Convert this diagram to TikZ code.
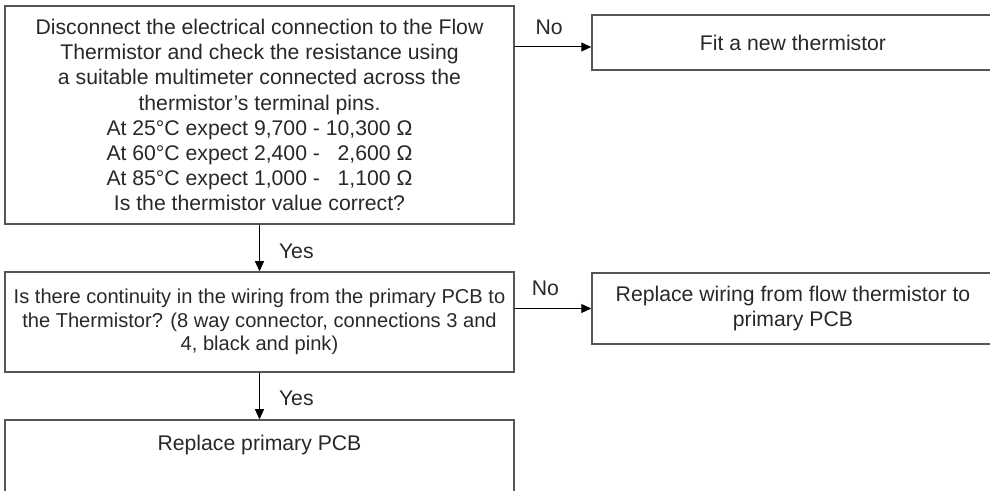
\documentclass[tikz,border=0pt]{standalone}
\usepackage{fontspec}
\setmainfont{Liberation Sans}
\usepackage{tikz}
\usetikzlibrary{arrows.meta, positioning}
\usepackage{xcolor}
\definecolor{boxline}{RGB}{85,85,85}
\definecolor{inktext}{RGB}{40,40,40}

\tikzset{
  stepbox/.style={draw=boxline, line width=0.75pt, align=center, inner sep=0pt,
    minimum width=254.5pt, text=inktext, font={\fontsize{10.6pt}{12.55pt}\selectfont}},
  sidebox/.style={stepbox, minimum width=201pt},
  arr/.style={-{Triangle[length=5pt, width=4.5pt]}, line width=0.5pt, black},
  lbl/.style={inner sep=0pt, text=inktext, font={\fontsize{10.6pt}{12.55pt}\selectfont}}
}

\begin{document}
\begin{tikzpicture}[x=0.5pt, y=-0.5pt]
  \useasboundingbox (0,0) rectangle (990,491);
  \clip (0,0) rectangle (990,491);
  % thermistor check
  \node[stepbox, minimum height=109pt] (test) at (259.5,115)
    {Disconnect the electrical connection to the Flow\\
     Thermistor and check the resistance using\\
     a suitable multimeter connected across the\\
     thermistor’s terminal pins.\\
     At 25°C expect 9,700 - 10,300 Ω\\
     At 60°C expect 2,400 -\ \ \ 2,600 Ω\\
     At 85°C expect 1,000 -\ \ \ 1,100 Ω\\
     Is the thermistor value correct?};
  \node[sidebox, minimum height=27.5pt] (fit) at (793,42.5) {Fit a new thermistor};
  % wiring check
  \node[stepbox, minimum height=50pt, font={\fontsize{10.05pt}{11.7pt}\selectfont}] (wiring) at (259.5,322)
    {Is there continuity in the wiring from the primary PCB to\\
     the Thermistor? (8 way connector, connections 3 and\\
     4, black and pink)};
  \node[sidebox, minimum height=35.5pt, font={\fontsize{10.6pt}{12.8pt}\selectfont}] (wire) at (793,308.5)
    {Replace wiring from flow thermistor to\\ primary PCB};
  % last step (runs off the page)
  \node[stepbox, minimum height=60pt,
    label={[lbl, anchor=base, yshift=-15.5pt]north:Replace primary PCB}] (pcb) at (259.5,480) {};

  % connectors
  \coordinate (nofit) at ([yshift=-2.25pt]fit.west);
  \draw[arr] (nofit -| test.east) -- node[lbl, above=6pt, pos=0.45] {No} (nofit);
  \draw[arr] (test.south) -- node[lbl, right=9.5pt, pos=0.58] {Yes} (wiring.north);
  \draw[arr] (wire.west -| wiring.east) -- node[lbl, above=6pt, pos=0.4] {No} (wire.west);
  \draw[arr] (wiring.south) -- node[lbl, right=9.5pt, pos=0.55] {Yes} (pcb.north);
\end{tikzpicture}
\end{document}
